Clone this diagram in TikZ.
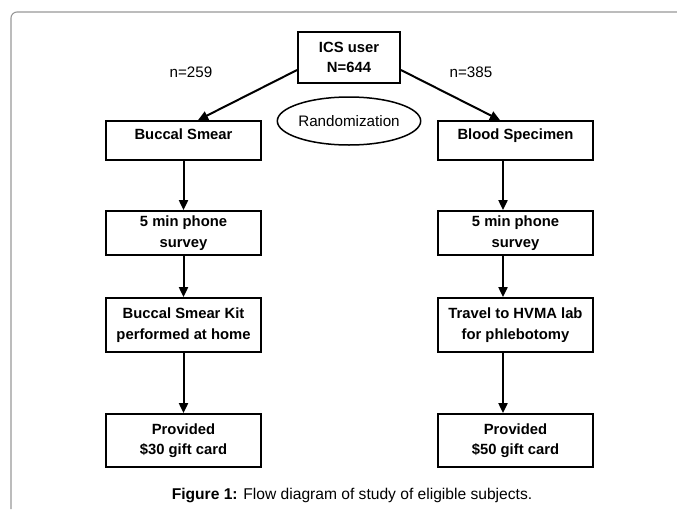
\documentclass[tikz,border=0pt]{standalone}
\usepackage{fontspec}
\setmainfont{Liberation Sans}
\usetikzlibrary{arrows.meta,shapes.geometric}
\begin{document}
\begin{tikzpicture}[x=1pt,y=-1pt,
  box/.style={draw=black, line width=1.8pt, minimum width=155pt, inner sep=0pt,
    align=center, font=\fontsize{14.8}{20.5}\selectfont\bfseries},
  arr/.style={line width=2pt, -{Triangle[length=10pt,width=9pt]}},
  lbl/.style={font=\fontsize{15.2}{18}\selectfont}]
\useasboundingbox (0,0) rectangle (677,509);
\fill[white] (0,0) rectangle (677,509);
\draw[black!40, line width=1.1pt, rounded corners=6pt] (11,509) -- (11,12) -- (677,12);

\node[box, minimum width=102pt, minimum height=51pt] (ics) at (349,57.5) {ICS user\\N=644};
\node[lbl] (n1) at (191,72) {n=259};
\node[lbl] (n2) at (471,72) {n=385};
\node[draw=black, line width=1.5pt, ellipse, minimum width=128pt, minimum height=48pt, inner sep=0pt, lbl] (rand) at (349,121) {Randomization};

\node[box, minimum height=39pt, text height=11pt, text depth=13.4pt] (l1) at (183.5,140.5) {Buccal Smear};
\node[box, minimum height=39pt, text height=11pt, text depth=13.4pt] (r1) at (515.5,140.5) {Blood Specimen};
\node[box, minimum height=44pt] (l2) at (183.5,233) {5 min phone\\survey};
\node[box, minimum height=44pt] (r2) at (515.5,233) {5 min phone\\survey};
\node[box, minimum height=54pt] (l3) at (183.5,325) {Buccal Smear Kit\\performed at home};
\node[box, minimum height=54pt] (r3) at (515.5,325) {Travel to HVMA lab\\for phlebotomy};
\node[box, minimum height=53pt] (l4) at (183.5,440.5) {Provided\\\$30 gift card};
\node[box, minimum height=53pt] (r4) at (515.5,440.5) {Provided\\\$50 gift card};

\draw[arr] ([yshift=-12.5pt]ics.west) -- ([xshift=14.5pt]l1.north);
\draw[arr] ([yshift=-12.5pt]ics.east) -- ([xshift=-15.5pt]r1.north);
\draw[arr] (l1.south) -- (l2.north);
\draw[arr] (l2.south) -- (l3.north);
\draw[arr] (l3.south) -- (l4.north);
\draw[arr] ([xshift=-12.5pt]r1.south) -- ([xshift=-12.5pt]r2.north);
\draw[arr] ([xshift=-12.5pt]r2.south) -- ([xshift=-12.5pt]r3.north);
\draw[arr] ([xshift=-12.5pt]r3.south) -- ([xshift=-12.5pt]r4.north);

\node[font=\fontsize{15.6}{18}\selectfont] (cap) at (352,495) {\textbf{Figure 1:} Flow diagram of study of eligible subjects.};
\end{tikzpicture}
\end{document}
